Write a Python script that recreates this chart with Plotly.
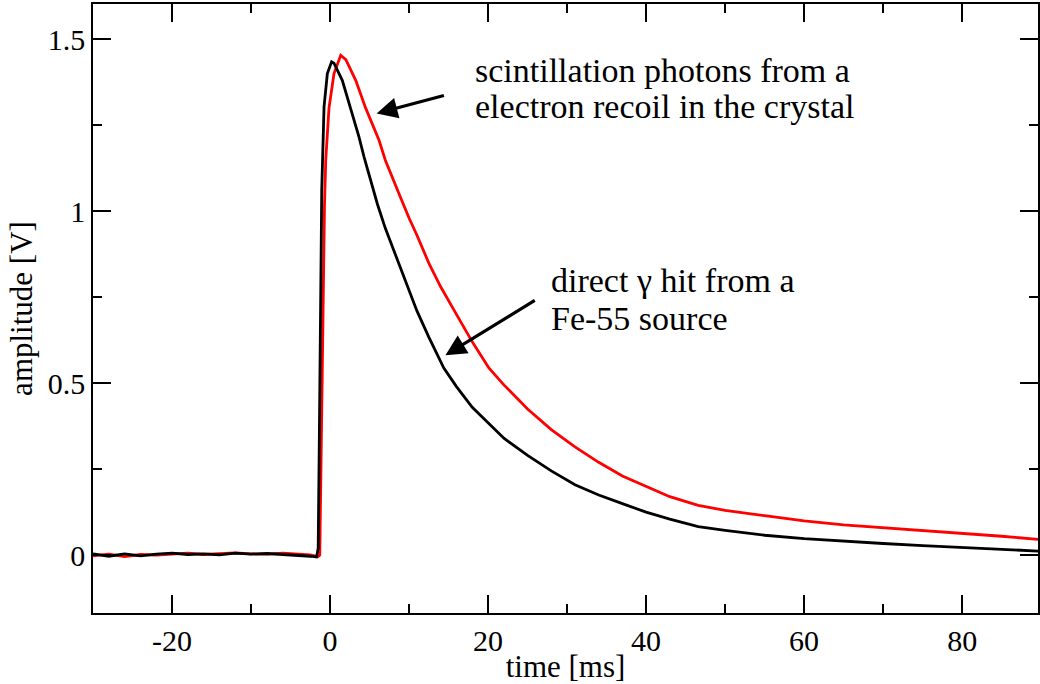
import plotly.graph_objects as go

# ---------------- data ----------------
t_black = [-30, -28, -26, -24, -22, -20, -18, -16, -14, -12, -10, -8, -6, -4, -2.5, -1.7,
           -1.5, -1.35, -1.2, -1.05, -0.76, -0.34, 0.2, 0.5, 1.55, 2.6, 3.66, 4.3, 5, 6, 7,
           8, 9, 10, 11, 12.5, 14.4, 16, 18, 20, 22, 25, 28, 31, 34, 37, 40, 43, 46.6, 50,
           55, 60, 65, 70, 75, 80, 85, 89.6]
v_black = [0.004, -0.003, 0.004, -0.002, 0.003, 0.006, 0.002, 0.004, 0.001, 0.006, 0.003,
           0.005, 0.002, 0.0, -0.003, -0.005,
           0.02, 0.35, 0.75, 1.06, 1.303, 1.40, 1.434, 1.43, 1.38, 1.30, 1.216, 1.158, 1.10,
           1.02, 0.95, 0.89, 0.83, 0.77, 0.71, 0.634, 0.544, 0.49, 0.43, 0.385, 0.34, 0.29,
           0.245, 0.205, 0.175, 0.15, 0.125, 0.105, 0.083, 0.072, 0.058, 0.048, 0.04, 0.034,
           0.028, 0.022, 0.018, 0.012]

t_red = [-30, -28, -26, -24, -22, -20, -18, -16, -14, -12, -10, -8, -6, -4, -2.5, -1.5,
         -1.3, -1.15, -1.0, -0.85, -0.7, -0.54, -0.13, 0.5, 1.35, 2.0, 3.25, 4.5, 6.2, 7.0,
         8, 9, 10, 11, 12.5, 14, 16, 18, 20.1, 22, 25, 28, 31, 34, 37, 40, 43, 46.6, 50,
         55, 60, 65, 70, 75, 80, 85, 89.6]
v_red = [-0.002, 0.003, -0.004, 0.002, 0.0, 0.004, 0.006, 0.002, 0.005, 0.007, 0.004,
         0.003, 0.006, 0.002, 0.001, -0.004,
         0.0, 0.25, 0.55, 0.85, 1.02, 1.15, 1.30, 1.40, 1.453, 1.44, 1.38, 1.30, 1.206,
         1.148, 1.09, 1.035, 0.98, 0.93, 0.849, 0.78, 0.70, 0.62, 0.544, 0.495, 0.425,
         0.365, 0.315, 0.27, 0.23, 0.20, 0.17, 0.145, 0.13, 0.115, 0.10, 0.088, 0.08,
         0.072, 0.064, 0.055, 0.046]

x_tickvals = [-20, 0, 20, 40, 60, 80]
x_ticktext = ["-20", "0", "20", "40", "60", "80"]
y_tickvals = [0, 0.5, 1, 1.5]
y_ticktext = ["0", "0.5", "1", "1.5"]

label_red = ["scintillation photons from a", "electron recoil in the crystal"]
label_black = ["direct \u03b3 hit from a", "Fe-55 source"]

# ---------------- figure ----------------
FONT = "Liberation Serif"

fig = go.Figure()
fig.add_trace(go.Scatter(x=t_red, y=v_red, mode="lines",
                         line=dict(color="#ff0000", width=2.8), showlegend=False))
fig.add_trace(go.Scatter(x=t_black, y=v_black, mode="lines",
                         line=dict(color="#000000", width=2.8), showlegend=False))

axis_common = dict(
    showgrid=False, zeroline=False, showline=True, linecolor="#000000", linewidth=1.6,
    mirror="allticks", ticks="inside", ticklen=18, tickwidth=1.6, tickcolor="#000000",
)

fig.update_xaxes(
    range=[-30, 89.6], tickvals=x_tickvals, ticktext=x_ticktext,
    minor=dict(ticks="inside", ticklen=9, tickwidth=1.6, tickcolor="#000000", dtick=10, tick0=0),
    tickfont=dict(family=FONT, size=30, color="#000000"),
    title=dict(text="time [ms]", font=dict(family=FONT, size=31, color="#000000"), standoff=2),
    **axis_common,
)
fig.update_yaxes(
    range=[-0.168, 1.602], tickvals=y_tickvals, ticktext=y_ticktext,
    minor=dict(ticks="inside", ticklen=9, tickwidth=1.6, tickcolor="#000000", dtick=0.25, tick0=0),
    tickfont=dict(family=FONT, size=30, color="#000000"),
    title=dict(text="amplitude [V]", font=dict(family=FONT, size=31, color="#000000"), standoff=6),
    **axis_common,
)

anns = []
# text lines
for txt, yy in zip(label_red, [1.410, 1.305]):
    anns.append(dict(x=18.07, y=yy, xref="x", yref="y", text=txt, showarrow=False,
                     xanchor="left", yanchor="middle",
                     font=dict(family=FONT, size=34, color="#000000")))
for txt, yy in zip(label_black, [0.799, 0.689]):
    anns.append(dict(x=27.67, y=yy, xref="x", yref="y", text=txt, showarrow=False,
                     xanchor="left", yanchor="middle",
                     font=dict(family=FONT, size=34, color="#000000")))
# arrows
anns.append(dict(x=5.9, y=1.284, ax=14.6, ay=1.337, xref="x", yref="y", axref="x", ayref="y",
                 text="", showarrow=True, arrowhead=2, arrowsize=1.3, arrowwidth=3.2,
                 arrowcolor="#000000"))
anns.append(dict(x=14.6, y=0.581, ax=26.1, ay=0.743, xref="x", yref="y", axref="x", ayref="y",
                 text="", showarrow=True, arrowhead=2, arrowsize=1.3, arrowwidth=3.2,
                 arrowcolor="#000000"))

fig.update_layout(
    width=1040, height=684,
    margin=dict(l=93, r=0, t=4, b=71),
    paper_bgcolor="#ffffff", plot_bgcolor="#ffffff",
    annotations=anns,
    font=dict(family=FONT, color="#000000"),
)

fig.write_html("out.html")
